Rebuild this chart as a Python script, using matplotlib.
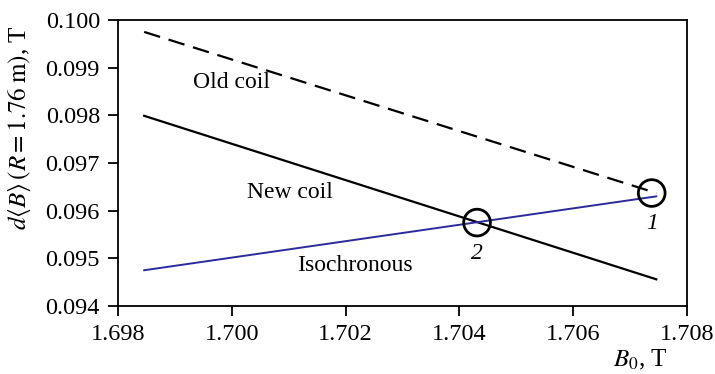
import numpy as np
import matplotlib
matplotlib.use("Agg")
import matplotlib.pyplot as plt

plt.rcParams["font.family"] = ["Liberation Serif", "DejaVu Serif"]
plt.rcParams["mathtext.fontset"] = "stix"

# field values (T)
b0_ends = [1.69846, 1.70746]
old_coil = [0.09975, 0.09637]
new_coil = [0.09799, 0.09456]
isochronous = [0.09475, 0.09630]

# marked points: label, B0, dB
point_labels = ["1", "2"]
point_b0 = [1.70738, 1.70431]
point_db = [0.09637, 0.09575]

x_ticks = [1.698, 1.700, 1.702, 1.704, 1.706, 1.708]
y_ticks = [0.094, 0.095, 0.096, 0.097, 0.098, 0.099, 0.100]

fig = plt.figure(figsize=(7.15, 3.74), dpi=100)
ax = fig.add_axes([118 / 715, 1 - 306 / 374, (687 - 118) / 715, (306 - 20) / 374])

ax.plot(b0_ends, old_coil, color="black", lw=1.6, ls=(0, (7.5, 4)))
ax.plot(b0_ends, new_coil, color="black", lw=1.6)
ax.plot(b0_ends, isochronous, color="#2b2b9c", lw=1.4)

ax.scatter(point_b0, point_db, s=370, facecolors="none", edgecolors="black",
           linewidths=2, zorder=5)
for lab, bx, by in zip(point_labels, point_b0, point_db):
    ax.text(bx, by - 0.00064, lab, style="italic", fontsize=17,
            ha="center", va="center")

ax.text(1.70000, 0.09868, "Old coil", fontsize=17, ha="center", va="center")
ax.text(1.70102, 0.09639, "New coil", fontsize=17, ha="center", va="center")
ax.text(1.70217, 0.09486, "Isochronous", fontsize=17, ha="center", va="center")

ax.set_xlim(1.698, 1.708)
ax.set_ylim(0.094, 0.100)
ax.set_xticks(x_ticks)
ax.set_yticks(y_ticks)
ax.set_xticklabels([f"{v:.3f}" for v in x_ticks])
ax.set_yticklabels([f"{v:.3f}" for v in y_ticks])
ax.tick_params(direction="out", length=7, width=1.3, labelsize=17.5, pad=6)
for sp in ax.spines.values():
    sp.set_linewidth(1.3)

fig.text(20 / 715, 1 - 128 / 374, r"$d\langle B\rangle\,(R = 1.76\;\mathrm{m})$, T",
         fontsize=18, rotation=90, ha="center", va="center")
fig.text(640 / 715, 1 - 360 / 374, r"$B_0$, T", fontsize=18, ha="center", va="center")

fig.savefig("out.png", dpi=100)
